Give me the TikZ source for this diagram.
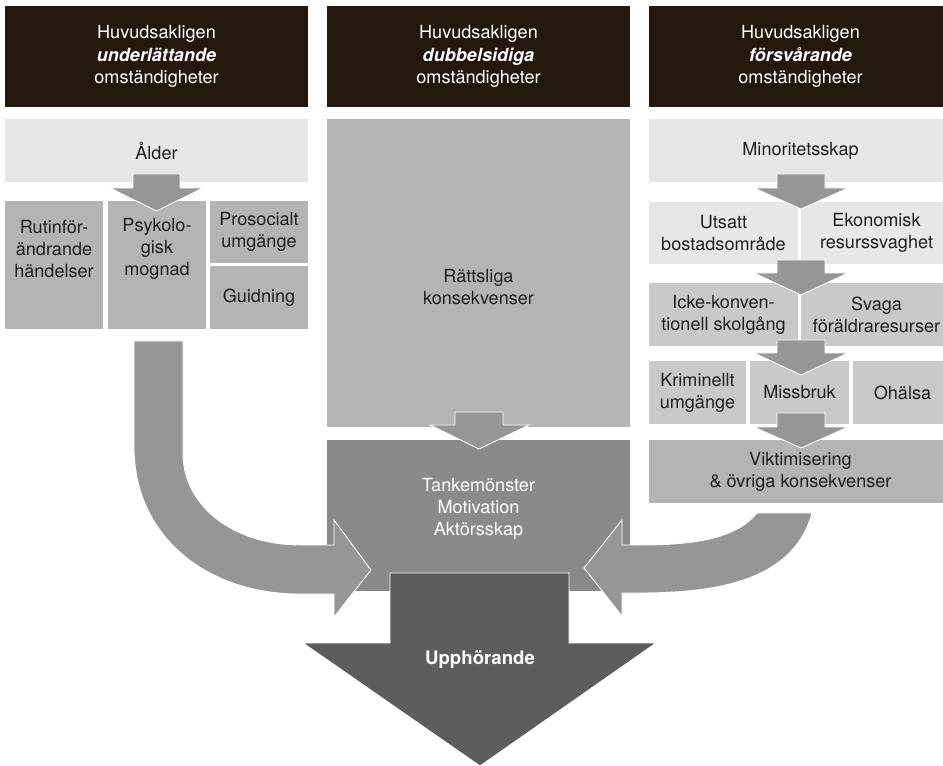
\documentclass[tikz,border=0pt]{standalone}
\usepackage{fontspec}
\setmainfont{TeX Gyre Heros}
\usetikzlibrary{positioning}
\definecolor{hdrbrown}{RGB}{34,24,12}
\definecolor{palegray}{RGB}{231,231,231}
\definecolor{midgray}{RGB}{180,180,178}
\definecolor{litegray}{RGB}{201,201,200}
\definecolor{arrowgray}{RGB}{150,150,150}
\definecolor{thinkgray}{RGB}{138,138,136}
\definecolor{stopgray}{RGB}{94,93,91}
\definecolor{inkgray}{RGB}{35,31,32}
\begin{document}
\begin{tikzpicture}[x=0.02cm, y=-0.02cm,
  box/.style={rectangle, inner sep=0pt, align=center, text=inkgray,
    font=\fontsize{10.3}{12.6}\selectfont},
  header/.style={box, fill=hdrbrown, text=white,
    minimum width=6.06cm, minimum height=2.02cm},
  txt/.style={inner sep=0pt, align=center, text=inkgray,
    font=\fontsize{10.3}{12.6}\selectfont},
  blockarrow/.style={fill=arrowgray, draw=white, line width=0.5pt}]
\useasboundingbox (0,0) rectangle (943,766);
\clip (0,0) rectangle (943,766);

\node (hdrL) [header] at (156.5,56.5) {Huvudsakligen\\\textbf{\textit{underlättande}}\\omständigheter};
\node (hdrM) [header] at (478.5,56.5) {Huvudsakligen\\\textbf{\textit{dubbelsidiga}}\\omständigheter};
\node (hdrR) [header] at (800.5,56.5) {Huvudsakligen\\\textbf{\textit{försvårande}}\\omständigheter};

\node (alder) [box, fill=palegray, minimum width=6.06cm, minimum height=1.26cm] at (156.5,150.5) {Ålder};
\node (rutin) [box, fill=midgray, minimum width=1.96cm, minimum height=2.56cm] at (54,265) {};
\node (psyko) [box, fill=midgray, minimum width=1.96cm, minimum height=2.56cm] at (157,265) {};
\node (rutintext) [txt] at (54,249) {Rutinför-\\ändrande\\händelser};
\node (psykotext) [txt] at (157,249) {Psykolo-\\gisk\\mognad};
\node (prosocial) [box, fill=midgray, minimum width=1.96cm, minimum height=1.24cm] at (259,232) {Prosocialt\\umgänge};
\node (guidning) [box, fill=midgray, minimum width=1.96cm, minimum height=1.26cm] at (259,297.5) {Guidning};

\node (ratt) [box, fill=midgray, minimum width=6.06cm, minimum height=6.16cm] at (478.5,273) {};
\node (ratttext) [txt] at (478.5,287) {Rättsliga\\konsekvenser};
\node (tanke) [box, fill=thinkgray, minimum width=6.06cm, minimum height=3.02cm] at (478.5,515.5) {};
\node (tanketext) [txt, text=white] at (478.5,509) {Tankemönster\\Motivation\\Aktörsskap};

\node (minoritet) [box, fill=palegray, minimum width=6.06cm, minimum height=1.26cm] at (800.5,150.5) {Minoritetsskap};
\node (utsatt) [box, fill=palegray, minimum width=2.98cm, minimum height=1.24cm] at (723.5,233) {Utsatt\\bostadsområde};
\node (ekonomisk) [box, fill=palegray, minimum width=3.02cm, minimum height=1.24cm] at (876.5,233) {Ekonomisk\\resurssvaghet};
\node (icke) [box, fill=litegray, minimum width=2.98cm, minimum height=1.26cm] at (723.5,314.5) {Icke-konven-\\tionell skolgång};
\node (svaga) [box, fill=litegray, minimum width=3.02cm, minimum height=1.26cm] at (876.5,314.5) {Svaga\\föräldraresurser};
\node (kriminellt) [box, fill=litegray, minimum width=1.94cm, minimum height=1.26cm] at (697.5,392.5) {Kriminellt\\umgänge};
\node (missbruk) [box, fill=litegray, minimum width=1.98cm, minimum height=1.26cm] at (799.5,392.5) {Missbruk};
\node (ohalsa) [box, fill=litegray, minimum width=1.98cm, minimum height=1.26cm] at (902.5,392.5) {Ohälsa};
\node (viktim) [box, fill=midgray, minimum width=6.06cm, minimum height=1.26cm] at (800.5,471.5) {Viktimisering\\\& övriga konsekvenser};

\filldraw [blockarrow] (133,174) -- (180,174) -- (180,188) -- (203,188) -- (156.5,211)
  -- (110,188) -- (133,188) -- cycle;
\filldraw [blockarrow] (455,412) -- (503,412) -- (503,425) -- (529,425) -- (479,449)
  -- (430,425) -- (455,425) -- cycle;
\foreach \t/\b/\p in {174/188/209, 260/273/295, 340/353/375, 413/427/448}
  \filldraw [blockarrow] (777,\t) -- (825,\t) -- (825,\b) -- (848,\b) -- (801,\p)
    -- (754,\b) -- (777,\b) -- cycle;

\filldraw [blockarrow] (134,341) -- (134,447) .. controls (134,535) and (205,594) .. (300,594)
  -- (334,594) -- (334,617) -- (371,570) -- (334,520) -- (334,545) -- (300,545)
  .. controls (236,545) and (183,508) .. (183,453) -- (183,341) -- cycle;
\filldraw [blockarrow] (757,513) -- (812,513) .. controls (795,575) and (730,593) .. (640,593)
  -- (622,593) -- (622,616) -- (584,568) -- (622,520) -- (622,545) -- (640,545)
  .. controls (690,545) and (735,540) .. (757,513) -- cycle;

\filldraw [fill=stopgray, draw=white, line width=0.5pt] (390,573) -- (569,573) -- (569,643)
  -- (656,643) -- (480,766) -- (303,643) -- (390,643) -- cycle;
\node (stop) [txt, text=white, font=\fontsize{10.6}{12.6}\selectfont\bfseries] at (480,660) {Upphörande};
\end{tikzpicture}
\end{document}
